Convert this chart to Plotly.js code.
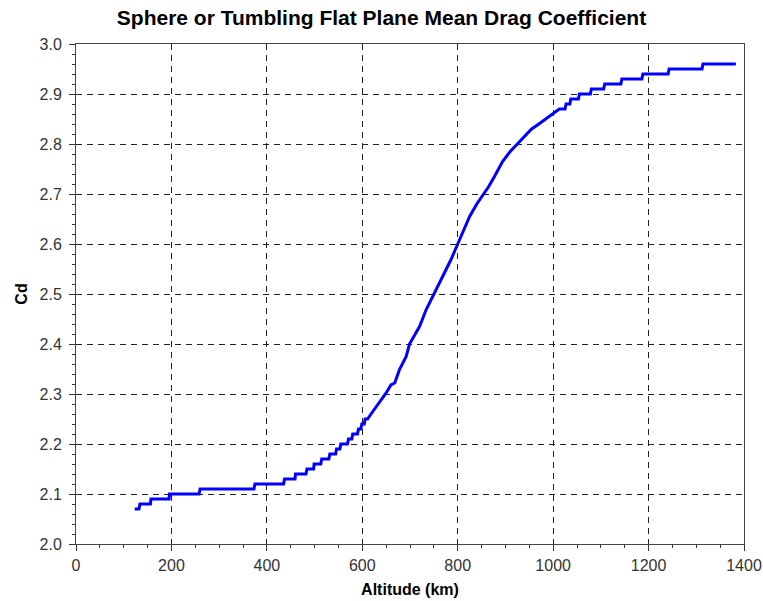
<!DOCTYPE html>
<html>
<head>
<meta charset="utf-8">
<script src="https://cdn.plot.ly/plotly-3.0.1.min.js"></script>
<style>html,body{margin:0;padding:0;background:#fff;}#chart{width:763px;height:601px;}</style>
</head>
<body>
<div id="chart"></div>
<script>
// Altitude (km) and mean drag coefficient
var altitudeKm = [
  123, 132, 134, 156, 157, 195, 196, 258, 260, 373, 375, 435, 437, 459, 460, 482,
  484, 498, 499, 513, 515, 530, 532, 544, 546, 553, 555, 569, 571, 578, 580, 590,
  592, 597, 599, 604, 606, 611,
  622, 633, 643, 650, 660, 668, 678, 692, 699, 713, 720, 734, 751, 769, 786, 800,
  814, 825, 840, 855, 865, 877, 894, 910, 925, 940, 955, 970, 985, 1000, 1013,
  1025, 1027, 1035, 1037, 1053, 1055, 1078, 1080, 1106,
  1108, 1142, 1144, 1186, 1188, 1241, 1243, 1312, 1314, 1383
];
var dragCd = [
  2.07, 2.07, 2.08, 2.08, 2.09, 2.09, 2.10, 2.10, 2.11, 2.11, 2.12, 2.12, 2.13, 2.13, 2.14, 2.14,
  2.15, 2.15, 2.16, 2.16, 2.17, 2.17, 2.18, 2.18, 2.19, 2.19, 2.20, 2.20, 2.21, 2.21, 2.22, 2.22,
  2.23, 2.23, 2.24, 2.24, 2.25, 2.25,
  2.265, 2.28, 2.292, 2.302, 2.318, 2.322, 2.349, 2.375, 2.40, 2.422, 2.435, 2.469, 2.502, 2.535, 2.569, 2.60,
  2.632, 2.655, 2.68, 2.70, 2.715, 2.735, 2.765, 2.785, 2.80, 2.815, 2.83, 2.84, 2.85, 2.86, 2.87,
  2.87, 2.88, 2.88, 2.89, 2.89, 2.90, 2.90, 2.91, 2.91,
  2.92, 2.92, 2.93, 2.93, 2.94, 2.94, 2.95, 2.95, 2.96, 2.96
];
var xTickVals = [0, 200, 400, 600, 800, 1000, 1200, 1400];
var yTickVals = [2.0, 2.1, 2.2, 2.3, 2.4, 2.5, 2.6, 2.7, 2.8, 2.9, 3.0];

var trace = {
  x: altitudeKm,
  y: dragCd,
  type: 'scatter',
  mode: 'lines',
  line: {color: '#0000ff', width: 3},
  hoverinfo: 'x+y'
};

var fam = 'Liberation Sans, Arial, sans-serif';
var axisFont = {family: fam, size: 16, color: '#333'};
var layout = {
  width: 763, height: 601,
  margin: {l: 76, r: 19, t: 44, b: 57},
  paper_bgcolor: '#ffffff', plot_bgcolor: '#ffffff',
  showlegend: false,
  title: {
    text: '<b>Sphere or Tumbling Flat Plane Mean Drag Coefficient</b>',
    font: {family: fam, size: 21, color: '#000'},
    x: 0.5, xanchor: 'center', y: 0.97, yanchor: 'middle'
  },
  xaxis: {
    range: [0, 1400],
    tickvals: xTickVals,
    ticktext: xTickVals.map(String),
    tickfont: axisFont,
    ticks: 'outside', ticklen: 6, tickcolor: '#333',
    ticklabelstandoff: 1,
    minor: {dtick: 50, ticks: 'outside', ticklen: 3, tickcolor: '#333', showgrid: false},
    showgrid: true, gridcolor: '#222', gridwidth: 1, griddash: '6px,5px',
    showline: true, linecolor: '#444', linewidth: 1, mirror: true,
    zeroline: false,
    title: {text: '<b>Altitude (km)</b>', font: {family: fam, size: 16, color: '#000'}, standoff: 10}
  },
  yaxis: {
    range: [2.0, 3.0],
    tickvals: yTickVals,
    ticktext: yTickVals.map(function(v){return v.toFixed(1);}),
    tickfont: axisFont,
    ticks: 'outside', ticklen: 6, tickcolor: '#333',
    ticklabelstandoff: 4,
    minor: {dtick: 0.02, ticks: 'outside', ticklen: 3, tickcolor: '#333', showgrid: false},
    showgrid: true, gridcolor: '#222', gridwidth: 1, griddash: '6px,5px',
    showline: true, linecolor: '#444', linewidth: 1, mirror: true,
    zeroline: false,
    title: {text: '<b>Cd</b>', font: {family: fam, size: 16, color: '#000'}, standoff: 7}
  }
};

Plotly.newPlot('chart', [trace], layout, {displayModeBar: false, staticPlot: true});
</script>
</body>
</html>
